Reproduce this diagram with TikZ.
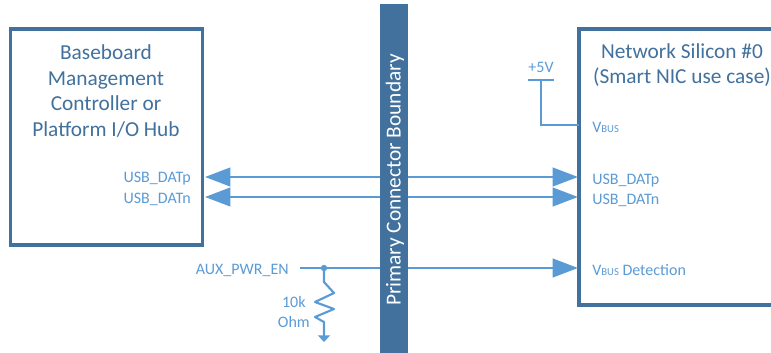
\documentclass[tikz,border=0pt]{standalone}
\usepackage{fontspec}
\setmainfont{Carlito}
\usetikzlibrary{arrows.meta, positioning}
\definecolor{azulB}{RGB}{65,113,156}
\definecolor{azulS}{RGB}{91,155,213}

\begin{document}
\begin{tikzpicture}[x=0.75pt, y=-0.75pt,
    chip/.style={rectangle, draw=azulB, line width=2.8pt, fill=white, inner sep=0pt},
    titulo/.style={text=azulB, font=\fontsize{16}{19.3}\selectfont, align=center},
    sinal/.style={text=azulS, font=\fontsize{12}{14.5}\selectfont, inner sep=0pt},
    barra/.style={rectangle, fill=azulB, minimum width=21pt, minimum height=262pt, inner sep=0pt},
    fio/.style={draw=azulS, line width=1.6pt},
    arr/.style={fio, -{Triangle[length=19pt, width=14pt]}},
    arrb/.style={fio, {Triangle[length=19pt, width=14pt]}-{Triangle[length=19pt, width=14pt]}}]
    \useasboundingbox (0,0) rectangle (771,353);
    \node[chip, minimum width=144pt, minimum height=162pt](bmc) at (106.5,137){};
    \node[chip, minimum width=162pt, minimum height=207pt](nic) at (687,167){};
    \node[titulo](bmct) at (106,91){Baseboard\\Management\\Controller or\\Platform I/O Hub};
    \node[titulo](nict) at (682,65){Network Silicon \#0\\(Smart NIC use case)};
    % sinais
    \node[sinal, anchor=east](dpb) at (191,179){USB\_DATp};
    \node[sinal, anchor=east](dnb) at (191,199){USB\_DATn};
    \node[sinal, anchor=west](dpn) at (592,181){USB\_DATp};
    \node[sinal, anchor=west](dnn) at (592,200){USB\_DATn};
    \node[sinal, anchor=west](vb) at (592,127){V{\fontsize{8}{9}\selectfont BUS}};
    \node[sinal, anchor=west](vd) at (592,270){V{\fontsize{8}{9}\selectfont BUS} Detection};
    \node[sinal, anchor=east](aux) at (289,270){AUX\_PWR\_EN};
    \node[sinal](cinco) at (541,67){+5V};
    \node[sinal, align=center, anchor=east](res) at (310,312){10k\\Ohm};
    \coordinate (pb) at (205,177);
    \coordinate (pn) at (578,177);
    \coordinate (nb) at (205,197);
    \coordinate (nn) at (578,197);
    \coordinate (a0) at (300,268);
    \coordinate (an) at (578,268);
    \coordinate (j) at (324,268);
    \coordinate (g) at (324,342);
    \coordinate (t0) at (528,80);
    \coordinate (t1) at (554,80);
    \coordinate (t) at (541,80);
    \coordinate (v) at (579,125);
    \draw[arrb](pb)--(pn);
    \draw[arrb](nb)--(nn);
    \draw[arr](a0)--(an);
    \fill[azulS](j) circle (2.4pt);
    \draw[fio, line join=round, -{Triangle[length=5pt, width=9pt]}](j)--(324,282)--(334,293)--(315,302)--(334,309)--(315,317)--(324,322)--(g);
    \draw[fio](t0)--(t1);
    \draw[fio](t)|-(v);
    \node[barra](pcb) at (394,178.5){};
    \node[rotate=90, text=white, font=\fontsize{16}{18}\selectfont](pcbt) at (395,180){Primary Connector Boundary};
  \end{tikzpicture}
\end{document}
